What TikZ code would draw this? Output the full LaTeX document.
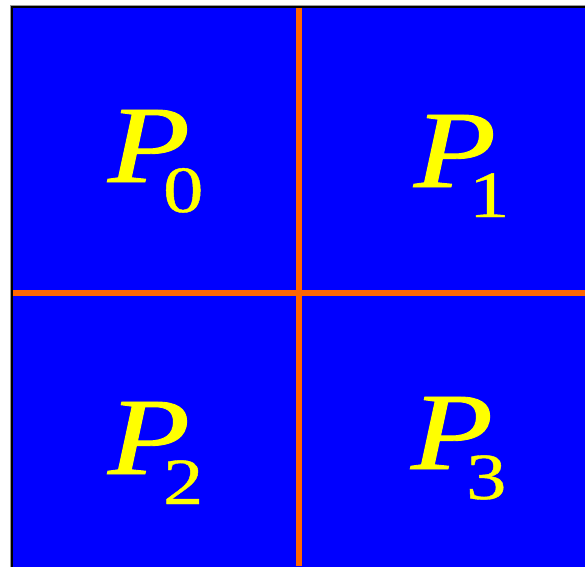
\documentclass[tikz,border=0pt]{standalone}
\usepackage{fontspec}
\setmainfont{Liberation Serif}
\newfontface\pital[FakeBold=0.8]{Liberation Serif Italic}
\newfontface\pdig[FakeBold=0.6]{Liberation Serif}
\definecolor{myblue}{HTML}{0000FF}
\definecolor{myorange}{HTML}{FF6600}
\definecolor{myyellow}{HTML}{FFFF00}
\newcommand{\mylab}[1]{\fontsize{110}{110}\pital P\kern-22pt\raisebox{-30pt}{\fontsize{66}{66}\pdig #1}}
\tikzset{
  lab/.style={text=myyellow, inner sep=0pt, outer sep=0pt, anchor=base west, xscale=1.22},
  divider/.style={draw=myorange, line width=6pt}
}
\begin{document}
\begin{tikzpicture}[x=1pt,y=1pt]
\useasboundingbox (0,0) rectangle (585,-566);
\clip (0,0) rectangle (585,-566);
\fill[black!40] (10,-5) rectangle (700,-700);
\fill[black] (11,-6) rectangle (700,-700);
\fill[myblue] (13,-8) rectangle (700,-700);
\coordinate (vt) at (298.5,-8);
\coordinate (vb) at (298.5,-566);
\coordinate (hl) at (13,-293);
\coordinate (hr) at (585,-293);
\draw[divider] (vt) -- (vb);
\draw[divider] (hl) -- (hr);
\node[lab] (p0) at (108,-182) {\mylab{0}};
\node[lab] (p1) at (414,-187) {\mylab{1}};
\node[lab] (p2) at (108,-474) {\mylab{2}};
\node[lab] (p3) at (411,-469) {\mylab{3}};
\end{tikzpicture}
\end{document}
